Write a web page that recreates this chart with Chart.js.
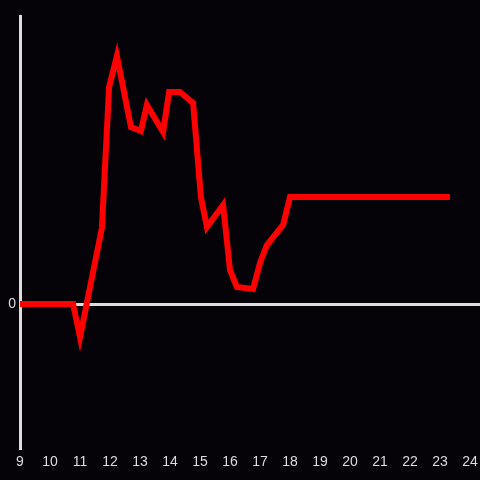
<!DOCTYPE html>
<html>
<head>
<meta charset="utf-8">
<script src="https://cdn.jsdelivr.net/npm/chart.js@4"></script>
<style>
  html, body { margin: 0; padding: 0; background: #050308; }
  #wrap { width: 480px; height: 480px; }
</style>
</head>
<body>
<div id="wrap"><canvas id="grafico"></canvas></div>
<script>
// hora del dia (eje x) y valor (eje y)
const horas = [9, 10.77, 11.0, 11.73, 11.97, 12.23, 12.7, 13.03, 13.23, 13.77, 13.97, 14.33, 14.77, 15.03, 15.23, 15.77, 16.0, 16.23, 16.77, 17.0, 17.23, 17.77, 18.0, 23.33];
const valores = [0, 0, -33, 76, 217, 248, 177, 173, 199, 172, 212, 212, 201, 107, 77, 99, 34, 17, 15, 41, 59, 79, 107, 107];
const ticksX = [9, 10, 11, 12, 13, 14, 15, 16, 17, 18, 19, 20, 21, 22, 23, 24];
const ticksY = [0];

document.addEventListener('DOMContentLoaded', function() {
    const fondo = {
        id: 'fondo',
        beforeDraw(chart) {
            const ctx = chart.ctx;
            ctx.save();
            ctx.fillStyle = '#050308';
            ctx.fillRect(0, 0, chart.width, chart.height);
            ctx.restore();
        }
    };

    const ctx = document.getElementById('grafico').getContext('2d');
    new Chart(ctx, {
        type: 'line',
        data: {
            datasets: [{
                data: horas.map((h, i) => ({ x: h, y: valores[i] })),
                borderColor: '#ff0000',
                borderWidth: 6,
                pointRadius: 0,
                tension: 0,
                fill: false
            }]
        },
        options: {
            responsive: true,
            maintainAspectRatio: false,
            animation: false,
            layout: { padding: { top: 16, right: 0, left: 0, bottom: 0 } },
            plugins: { legend: { display: false }, tooltip: { enabled: false } },
            scales: {
                x: {
                    type: 'linear',
                    min: 9,
                    max: 24.333,
                    afterBuildTicks: axis => { axis.ticks = ticksX.map(v => ({ value: v })); },
                    afterFit: axis => {
                        axis.height = 32;
                        axis.paddingLeft = 0;
                        axis.paddingRight = 0;
                    },
                    grid: { display: false },
                    border: { display: false },
                    ticks: {
                        color: '#dddddd',
                        font: { family: 'Liberation Sans', size: 14 },
                        padding: -2,
                        maxRotation: 0,
                        autoSkip: false
                    }
                },
                y: {
                    min: -144,
                    max: 288,
                    afterBuildTicks: axis => { axis.ticks = ticksY.map(v => ({ value: v })); },
                    afterFit: axis => { axis.width = 20; },
                    grid: { color: '#dddddd', lineWidth: 3, drawTicks: false },
                    border: { display: true, color: '#dddddd', width: 3 },
                    ticks: {
                        color: '#dddddd',
                        font: { family: 'Liberation Sans', size: 14 },
                        padding: 4
                    }
                }
            }
        },
        plugins: [fondo]
    });
});
</script>
</body>
</html>
